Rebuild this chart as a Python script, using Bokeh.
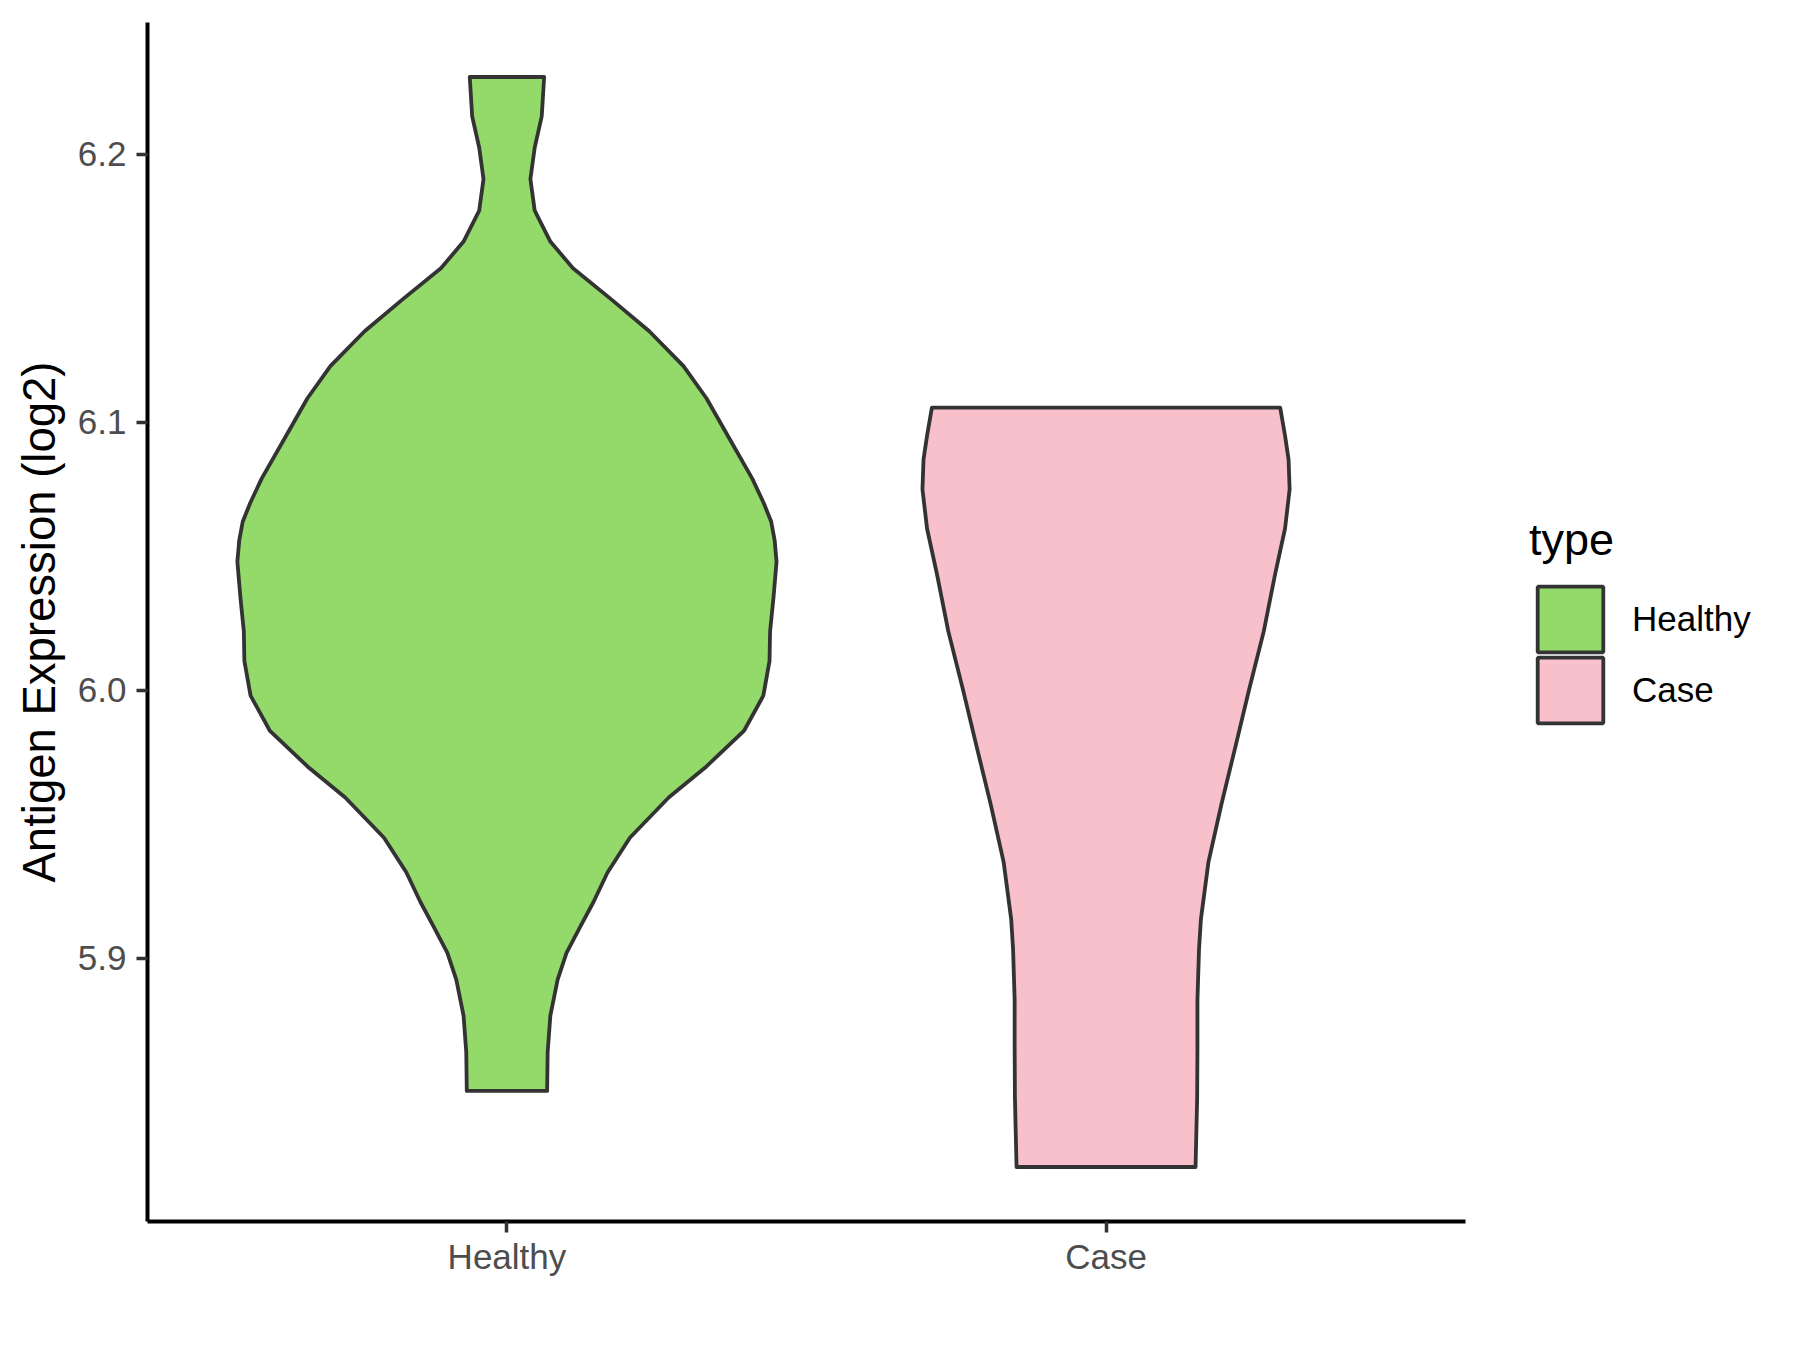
import numpy as np
from bokeh.plotting import figure
from bokeh.layouts import row
from bokeh.models import ColumnDataSource, Legend, LegendItem, FixedTicker, Range1d, NumeralTickFormatter
from bokeh.embed import file_html
from bokeh.resources import INLINE

# ---- data ----
categories = ["Healthy", "Case"]
fill_colors = ["#93DA6A", "#F7C0CB"]

# violin outline: expression values (log2) and relative density (max = 1)
healthy_y = [5.8505, 5.8650, 5.8786, 5.8920, 5.9020, 5.9120, 5.9210, 5.9320, 5.9450, 5.9600,
             5.9716, 5.9850, 5.9980, 6.0110, 6.0220, 6.0350, 6.0480, 6.0560, 6.0630, 6.0700,
             6.0790, 6.0940, 6.1090, 6.1210, 6.1340, 6.1460, 6.1575, 6.1675, 6.1790, 6.1908,
             6.2026, 6.2142, 6.2289]
healthy_density = [0.149, 0.151, 0.161, 0.188, 0.221, 0.273, 0.321, 0.373, 0.456, 0.600,
                   0.740, 0.880, 0.951, 0.974, 0.976, 0.989, 1.000, 0.993, 0.980, 0.952,
                   0.910, 0.825, 0.740, 0.655, 0.528, 0.386, 0.245, 0.161, 0.103, 0.087,
                   0.103, 0.129, 0.138]

case_y = [5.8221, 5.8480, 5.8660, 5.8844, 5.9037, 5.9147, 5.9360, 5.9575, 5.9790, 6.0000,
          6.0220, 6.0433, 6.0604, 6.0750, 6.0862, 6.0950, 6.1055]
case_density = [0.332, 0.338, 0.339, 0.339, 0.345, 0.352, 0.380, 0.428, 0.480, 0.530,
                0.585, 0.627, 0.664, 0.681, 0.677, 0.664, 0.646]

y_ticks = [5.9, 6.0, 6.1, 6.2]
violin_width = 0.9

series_y = [healthy_y, case_y]
series_d = [healthy_density, case_density]

# ---- scales (ggplot-like 5% expansion) ----
all_y = np.concatenate([np.array(v) for v in series_y])
lo, hi = all_y.min(), all_y.max()
pad = 0.05 * (hi - lo)

W1, W2, H = 1480, 320, 1334
p = figure(width=W1, height=H, output_backend="svg", toolbar_location=None,
           x_range=Range1d(0.4, 2.6), y_range=Range1d(lo - pad, hi + pad),
           min_border_left=147, min_border_right=15, min_border_top=22, min_border_bottom=113)
p.background_fill_color = "white"
p.border_fill_color = "white"
p.outline_line_color = None
p.xgrid.visible = False
p.ygrid.visible = False

# legend panel (separate figure to the right, no axes); its range excludes the data,
# so the shared-source renderers there only serve as legend swatches
q = figure(width=W2, height=H, output_backend="svg", toolbar_location=None,
           x_axis_location=None, y_axis_location=None,
           x_range=Range1d(0, 1), y_range=Range1d(0, 1), min_border=0)
q.outline_line_color = None
q.xgrid.visible = False
q.ygrid.visible = False
q.background_fill_color = "white"
q.border_fill_color = "white"

font = "Liberation Sans"
legend_renderers = []
for i, (cat, ys, ds, col) in enumerate(zip(categories, series_y, series_d, fill_colors)):
    ys = np.array(ys)
    hw = np.array(ds) * violin_width / 2
    cx = i + 1
    xs = np.concatenate([cx - hw, (cx + hw)[::-1]])
    yy = np.concatenate([ys, ys[::-1]])
    src = ColumnDataSource(dict(x=xs, y=yy))
    p.patch("x", "y", source=src, fill_color=col, line_color="#333333", line_width=3.8,
            line_join="round")
    lr = q.patch("x", "y", source=src, fill_color=col, line_color="#333333", line_width=3.8)
    legend_renderers.append((cat, lr))

# axes
p.xaxis.ticker = FixedTicker(ticks=[1, 2])
p.xaxis.major_label_overrides = {1: "Healthy", 2: "Case"}
p.yaxis.ticker = FixedTicker(ticks=y_ticks)
p.yaxis.formatter = NumeralTickFormatter(format="0.0")
for ax in (p.xaxis, p.yaxis):
    ax.axis_line_color = "black"
    ax.axis_line_width = 4
    ax.major_tick_line_color = "#333333"
    ax.major_tick_line_width = 3.5
    ax.major_tick_out = 11
    ax.major_tick_in = 0
    ax.minor_tick_line_color = None
    ax.major_label_text_font = font
    ax.major_label_text_font_size = "35px"
    ax.major_label_text_color = "#4D4D4D"
p.xaxis.major_label_standoff = 4
p.yaxis.major_label_standoff = 10
p.yaxis.axis_label = "Antigen Expression (log2)"
p.yaxis.axis_label_text_font = font
p.yaxis.axis_label_text_font_size = "45.5px"
p.yaxis.axis_label_text_font_style = "normal"
p.yaxis.axis_label_text_color = "black"
p.yaxis.axis_label_standoff = 10

common = dict(label_text_font=font, label_text_font_size="35px", label_text_color="black",
              glyph_width=82, glyph_height=82, label_standoff=21, spacing=0,
              padding=0, margin=0, border_line_alpha=0, background_fill_alpha=0)
leg1 = Legend(items=[LegendItem(label=legend_renderers[0][0], renderers=[legend_renderers[0][1]])],
              location=(49, 561), title="type",
              title_text_font=font, title_text_font_size="45px", title_text_font_style="normal",
              title_text_color="black", title_standoff=12, **common)
leg2 = Legend(items=[LegendItem(label=legend_renderers[1][0], renderers=[legend_renderers[1][1]])],
              location=(49, 490), **common)
q.add_layout(leg1, "center")
q.add_layout(leg2, "center")

layout = row(p, q, spacing=0)
open("out.html", "w").write(file_html(layout, INLINE))
